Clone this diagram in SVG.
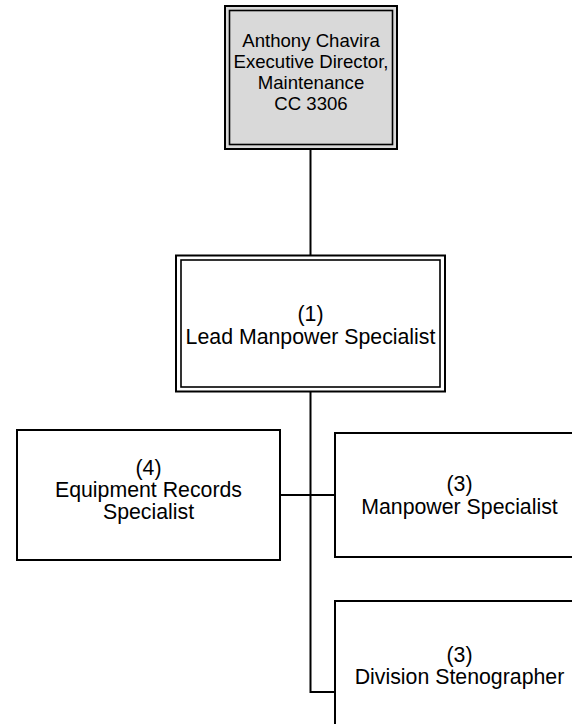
<svg xmlns="http://www.w3.org/2000/svg" width="572" height="724" viewBox="0 0 572 724">
<style>
.b{fill:#fff;stroke:#000;stroke-width:2}
.g{fill:#d9d9d9;stroke:#000;stroke-width:2}
.i{fill:none;stroke:#000;stroke-width:1.6}
.t{font-family:"Liberation Sans",Arial,sans-serif;font-size:21.3px;fill:#000;text-anchor:middle}
.s{font-size:18.6px}
.c{fill:none;stroke:#000;stroke-width:2}
</style>
<rect width="572" height="724" fill="#fff"/>
<g id="connectors">
<path class="c" d="M310.5,149V255"/>
<path class="c" d="M310.5,391V692H335"/>
<path class="c" d="M280,495H335"/>
</g>
<g id="director">
<rect class="g" x="225" y="6" width="172" height="143"/>
<rect class="i" x="229.5" y="10.5" width="163" height="134"/>
<text class="t s" x="311" y="47">Anthony Chavira</text>
<text class="t s" x="311" y="68">Executive Director,</text>
<text class="t s" x="311" y="89">Maintenance</text>
<text class="t s" x="311" y="110">CC 3306</text>
</g>
<g id="lead">
<rect class="b" x="176" y="255.5" width="269" height="136"/>
<rect class="i" x="181" y="260" width="259" height="127"/>
<text class="t" x="310.5" y="320.5">(1)</text>
<text class="t" x="310.5" y="343.5">Lead Manpower Specialist</text>
</g>
<g id="equipment">
<rect class="b" x="17" y="430" width="263" height="130"/>
<text class="t" x="148.5" y="474.5">(4)</text>
<text class="t" x="148.5" y="496.5">Equipment Records</text>
<text class="t" x="148.5" y="518.5">Specialist</text>
</g>
<g id="manpower">
<rect class="b" x="335" y="433" width="260" height="124"/>
<text class="t" x="459.5" y="490.5">(3)</text>
<text class="t" x="459.5" y="513.5">Manpower Specialist</text>
</g>
<g id="steno">
<rect class="b" x="335" y="601" width="260" height="130"/>
<text class="t" x="459.5" y="661.5">(3)</text>
<text class="t" x="459.5" y="683.5">Division Stenographer</text>
</g>
</svg>
